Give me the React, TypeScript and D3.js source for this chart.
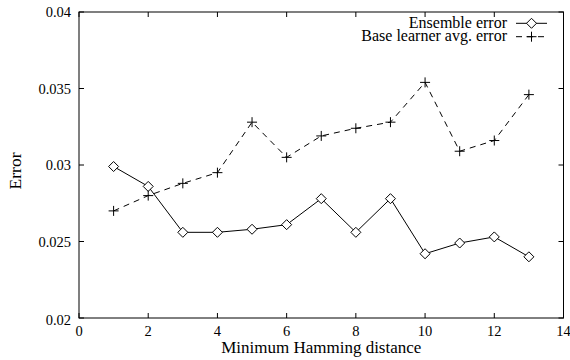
import React from "react";
import * as d3 from "d3";

const distances = [1, 2, 3, 4, 5, 6, 7, 8, 9, 10, 11, 12, 13];
const ensembleError = [0.0299, 0.0286, 0.0256, 0.0256, 0.0258, 0.0261, 0.0278, 0.0256, 0.0278, 0.0242, 0.0249, 0.0253, 0.0240];
const baseLearnerError = [0.0270, 0.0280, 0.0288, 0.0295, 0.0328, 0.0305, 0.0319, 0.0324, 0.0328, 0.0354, 0.0309, 0.0316, 0.0346];
const xTicks = [0, 2, 4, 6, 8, 10, 12, 14];
const yTicks = [0.02, 0.025, 0.03, 0.035, 0.04];
const yTickLabels = ["0.02", "0.025", "0.03", "0.035", "0.04"];
const seriesNames = ["Ensemble error", "Base learner avg. error"];

const W = 570;
const H = 360;
const L = 79;
const R = 563.5;
const T = 12;
const B = 318;
const FONT = "Liberation Serif, Times New Roman, Times, serif";

export default function App() {
  const x = d3.scaleLinear().domain([0, 14]).range([L, R]);
  const y = d3.scaleLinear().domain([0.02, 0.04]).range([B, T]);
  const line = d3
    .line<[number, number]>()
    .x((d) => x(d[0]))
    .y((d) => y(d[1]));
  const ens: [number, number][] = distances.map((d, i) => [d, ensembleError[i]]);
  const base: [number, number][] = distances.map((d, i) => [d, baseLearnerError[i]]);
  const tk = 5;
  const diamond = (cx: number, cy: number, s = 5) =>
    `M${cx},${cy - s}L${cx + s},${cy}L${cx},${cy + s}L${cx - s},${cy}Z`;
  const plus = (cx: number, cy: number, s = 5) =>
    `M${cx - s},${cy}L${cx + s},${cy}M${cx},${cy - s}L${cx},${cy + s}`;

  const legX1 = 516;
  const legX2 = 547;
  const legMid = (legX1 + legX2) / 2;
  const legY = [23.3, 36.7];
  const ts = { fontFamily: FONT };

  return (
    <svg
      width={W}
      height={H}
      style={{ position: "absolute", left: 0, top: 0, background: "#fff", fontFamily: FONT }}
    >
      <rect x={0} y={0} width={W} height={H} fill="#fff" />
      {xTicks.map((t) => (
        <g key={"x" + t}>
          <line x1={x(t)} x2={x(t)} y1={B} y2={B - tk} stroke="#000" />
          <line x1={x(t)} x2={x(t)} y1={T} y2={T + tk} stroke="#000" />
          <text x={x(t)} y={335.5} fontSize={14.5} textAnchor="middle" fill="#000" style={ts}>
            {t}
          </text>
        </g>
      ))}
      {yTicks.map((t, i) => (
        <g key={"y" + t}>
          <line x1={L} x2={L + tk} y1={y(t)} y2={y(t)} stroke="#000" />
          <line x1={R} x2={R - tk} y1={y(t)} y2={y(t)} stroke="#000" />
          <text
            x={71}
            y={y(t) + (i === 0 ? 2 : 0)}
            fontSize={14.5}
            textAnchor="end"
            dominantBaseline="central"
            fill="#000"
            style={ts}
          >
            {yTickLabels[i]}
          </text>
        </g>
      ))}
      <rect x={L} y={T} width={R - L} height={B - T} fill="none" stroke="#000" strokeWidth={1} />
      <path d={line(base) || ""} fill="none" stroke="#000" strokeWidth={1} strokeDasharray="6 5" />
      <path d={line(ens) || ""} fill="none" stroke="#000" strokeWidth={1} />
      {ens.map((d, i) => (
        <path key={"e" + i} d={diamond(x(d[0]), y(d[1]))} fill="#fff" stroke="#000" strokeWidth={1} />
      ))}
      {base.map((d, i) => (
        <path key={"b" + i} d={plus(x(d[0]), y(d[1]))} fill="none" stroke="#000" strokeWidth={1} />
      ))}
      <text x={507} y={27.5} fontSize={16} textAnchor="end" fill="#000" style={ts}>
        {seriesNames[0]}
      </text>
      <line x1={legX1} x2={legX2} y1={legY[0]} y2={legY[0]} stroke="#000" />
      <path d={diamond(legMid, legY[0])} fill="#fff" stroke="#000" />
      <text x={507} y={41} fontSize={16} textAnchor="end" fill="#000" style={ts}>
        {seriesNames[1]}
      </text>
      <line x1={legX1} x2={legX2} y1={legY[1]} y2={legY[1]} stroke="#000" strokeDasharray="6 5" />
      <path d={plus(legMid, legY[1])} fill="none" stroke="#000" />
      <text x={(L + R) / 2} y={353} fontSize={17} textAnchor="middle" fill="#000" style={ts}>
        Minimum Hamming distance
      </text>
      <text
        transform="translate(21, 171) rotate(-90)"
        fontSize={17.5}
        textAnchor="middle"
        fill="#000"
        style={ts}
      >
        Error
      </text>
    </svg>
  );
}
